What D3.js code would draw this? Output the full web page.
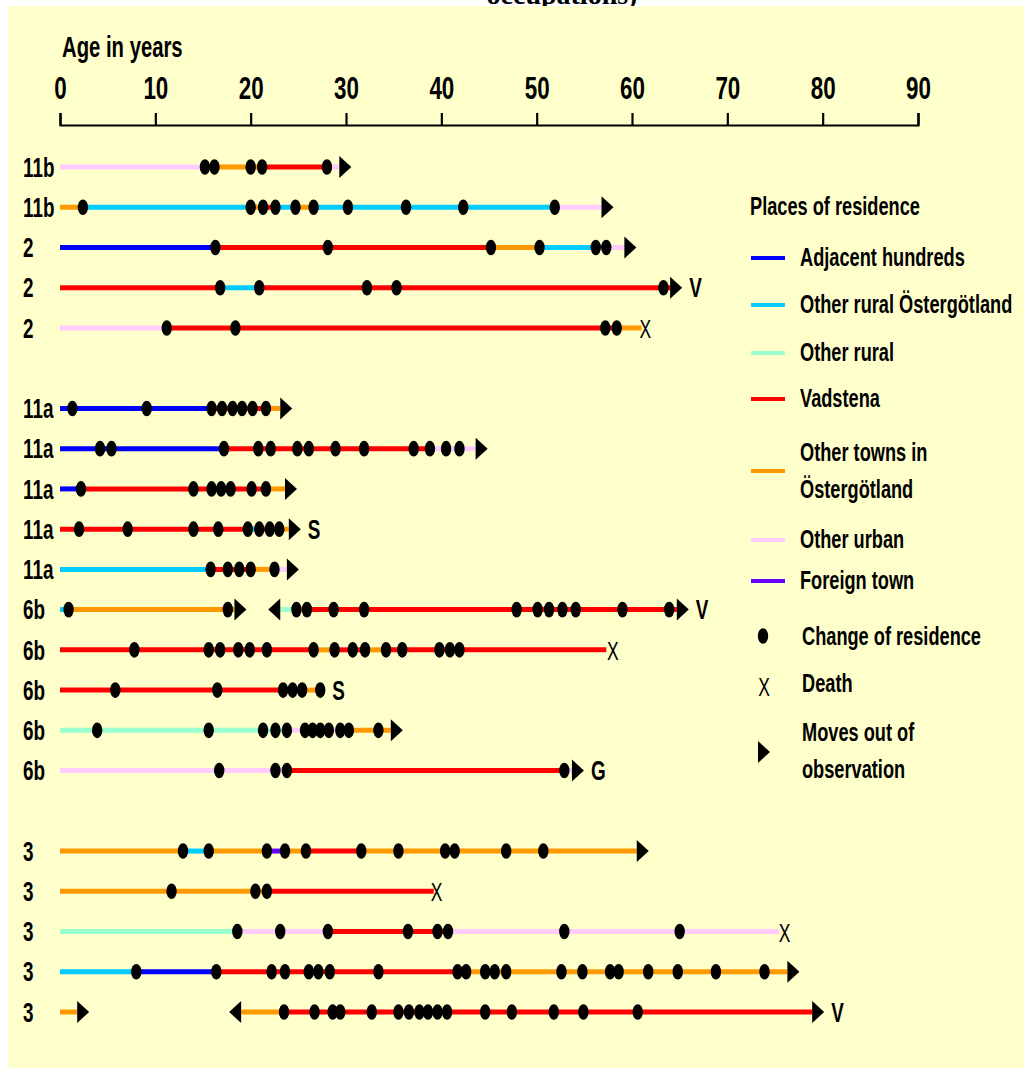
<!DOCTYPE html>
<html>
<head>
<meta charset="utf-8">
<script src="https://cdn.jsdelivr.net/npm/d3@7"></script>
<style>
  body { margin: 0; background: #fff; }
  text { font-family: "Liberation Sans", Arial, sans-serif; font-weight: bold; fill: #000; }
</style>
</head>
<body>
<svg id="chart" width="1024" height="1070"></svg>
<script>
// places of residence (legend order) and their colours
const places = ["A", "O", "R", "V", "T", "U", "F"];
const placeNames = [["Adjacent hundreds"], ["Other rural Östergötland"], ["Other rural"], ["Vadstena"],
  ["Other towns in", "Östergötland"], ["Other urban"], ["Foreign town"]];
const placeColors = ["#0000ff", "#00ccff", "#99ffcc", "#ff0000", "#ff9900", "#ffccff", "#6600ff"];

const ageTicks = [0, 10, 20, 30, 40, 50, 60, 70, 80, 90];

// one entry per lifeline, top to bottom
const rowLabels = ["11b", "11b", "2", "2", "2",
  "11a", "11a", "11a", "11a", "11a", "6b", "6b", "6b", "6b", "6b",
  "3", "3", "3", "3", "3"];
const rowGroup = [0, 0, 0, 0, 0, 1, 1, 1, 1, 1, 1, 1, 1, 1, 1, 2, 2, 2, 2, 2];

// [from age, to age, place]
const rowSegments = [
  [[0, 15.2, "U"], [15.2, 21.2, "T"], [21.2, 28.0, "V"], [28.0, 29.3, "U"]],
  [[0, 2.4, "T"], [2.4, 20.0, "O"], [20.0, 21.3, "T"], [21.3, 22.6, "V"], [22.6, 24.7, "O"], [24.7, 26.6, "T"], [26.6, 51.9, "O"], [51.9, 56.8, "U"]],
  [[0, 16.3, "A"], [16.3, 45.2, "V"], [45.2, 50.3, "T"], [50.3, 56.2, "O"], [56.2, 59.2, "U"]],
  [[0, 16.8, "V"], [16.8, 20.9, "O"], [20.9, 64.0, "V"]],
  [[0, 11.2, "U"], [11.2, 58.4, "V"], [58.4, 61.0, "T"]],
  [[0, 15.9, "A"], [15.9, 21.6, "V"], [21.6, 23.1, "T"]],
  [[0, 17.2, "A"], [17.2, 38.8, "V"], [38.8, 43.6, "U"]],
  [[0, 2.2, "A"], [2.2, 21.6, "V"], [21.6, 23.6, "T"]],
  [[0, 19.7, "V"], [19.7, 20.9, "O"], [20.9, 23.0, "V"], [23.0, 24.0, "T"]],
  [[0, 15.8, "O"], [15.8, 20.0, "V"], [20.0, 22.5, "T"], [22.5, 23.8, "U"]],
  [[0, 0.9, "O"], [0.9, 18.3, "T"], [23.1, 24.8, "R"], [24.8, 25.9, "T"], [25.9, 64.7, "V"]],
  [[0, 26.6, "V"], [26.6, 28.8, "T"], [28.8, 32.0, "V"], [32.0, 34.2, "T"], [34.2, 57.3, "V"]],
  [[0, 25.4, "V"], [25.4, 27.3, "T"]],
  [[0, 23.8, "R"], [23.8, 30.3, "U"], [30.3, 34.7, "T"]],
  [[0, 23.8, "U"], [23.8, 52.9, "V"], [52.9, 53.7, "U"]],
  [[0, 12.9, "T"], [12.9, 15.6, "O"], [15.6, 21.7, "T"], [21.7, 23.6, "F"], [23.6, 25.8, "T"], [25.8, 31.6, "V"], [31.6, 60.5, "T"]],
  [[0, 21.7, "T"], [21.7, 39.2, "V"]],
  [[0, 18.6, "R"], [18.6, 28.1, "U"], [28.1, 40.7, "V"], [40.7, 75.4, "U"]],
  [[0, 8.0, "O"], [8.0, 16.4, "A"], [16.4, 42.6, "V"], [42.6, 76.3, "T"]],
  [[0, 1.8, "T"], [19.0, 23.5, "T"], [23.5, 78.9, "V"]]
];

// ages at change of residence
const rowDots = [
  [15.2, 16.2, 20.0, 21.2, 28.0],
  [2.4, 20.0, 21.3, 22.6, 24.7, 26.6, 30.2, 36.3, 42.3, 51.9],
  [16.3, 28.1, 45.2, 50.3, 56.2, 57.3],
  [16.8, 20.9, 32.2, 35.3, 63.3],
  [11.2, 18.4, 57.2, 58.4],
  [1.3, 9.1, 15.9, 17.0, 18.1, 19.1, 20.2, 21.6],
  [4.2, 5.4, 17.2, 20.8, 22.1, 24.9, 26.1, 28.9, 31.9, 37.1, 38.8, 40.5, 41.9],
  [2.2, 14.0, 15.9, 16.9, 17.9, 20.1, 21.6],
  [2.0, 7.1, 14.0, 16.6, 19.7, 20.9, 22.0, 23.0],
  [15.8, 17.6, 18.8, 20.0, 22.5],
  [0.9, 17.6, 24.8, 25.9, 28.7, 31.9, 47.9, 50.1, 51.3, 52.7, 54.1, 59.0, 63.9],
  [7.8, 15.6, 16.8, 18.7, 19.9, 21.7, 26.6, 28.8, 30.7, 32.0, 34.2, 35.9, 39.8, 40.9, 41.9],
  [5.8, 16.5, 23.4, 24.4, 25.4, 27.3],
  [3.9, 15.6, 21.3, 22.6, 23.8, 25.7, 26.5, 27.3, 28.2, 29.4, 30.3, 33.4],
  [16.7, 22.6, 23.8, 52.9],
  [12.9, 15.6, 21.7, 23.6, 25.8, 31.6, 35.5, 40.4, 41.4, 46.8, 50.7],
  [11.7, 20.5, 21.7],
  [18.6, 23.1, 28.1, 36.5, 39.6, 40.7, 52.9, 65.0],
  [8.0, 16.4, 22.2, 23.6, 26.1, 27.1, 28.3, 33.4, 41.7, 42.6, 44.6, 45.6, 46.8, 52.6, 54.8, 57.7, 58.6, 61.7, 64.8, 68.8, 73.9],
  [23.5, 26.7, 28.6, 29.4, 32.7, 35.5, 36.6, 37.7, 38.6, 39.6, 40.6, 44.6, 47.4, 51.8, 54.9, 60.6]
];

// moves out of observation, moves back in, death
const rowExits = [[29.3], [56.8], [59.2], [64.0], [], [23.1], [43.6], [23.6], [24.0], [23.8],
  [18.3, 64.7], [], [], [34.7], [53.7], [60.5], [], [], [76.3], [1.8, 78.9]];
const rowEntries = [[], [], [], [], [], [], [], [], [], [], [23.1], [], [], [], [], [], [], [], [], [19.0]];
const rowDeaths = [null, null, null, null, 61.4, null, null, null, null, null,
  null, 58.0, null, null, null, null, 39.5, 76.0, null, null];
const rowNotes = ["", "", "", "V", "", "", "", "", "S", "", "V", "", "S", "", "G", "", "", "", "", "V"];

const SX = 0.7; // narrow lettering
const svg = d3.select("#chart");

svg.append("text")
  .attr("x", 562).attr("y", 4)
  .attr("text-anchor", "middle")
  .style("font-family", "'Liberation Serif', 'Times New Roman', serif")
  .attr("font-size", 28)
  .text("occupations)");

svg.append("rect")
  .attr("x", 8).attr("y", 6)
  .attr("width", 1016).attr("height", 1062)
  .attr("fill", "#ffffcc");

const x = d3.scaleLinear().domain([0, 90]).range([60, 918]);
const slotY = d3.scaleLinear().domain([0, 21]).range([167, 1012]);
const color = d3.scaleOrdinal(places, placeColors);

const narrow = (g, px, py, str, size) => g.append("text")
  .attr("transform", `translate(${px},${py}) scale(${SX},1)`)
  .attr("font-size", size)
  .text(str);

// axis
narrow(svg, 62, 57, "Age in years", 29);

const axis = svg.append("g")
  .attr("transform", "translate(0,125)")
  .call(d3.axisTop(x).tickValues(ageTicks).tickSize(12).tickSizeOuter(12).tickPadding(14));
axis.selectAll("path, line").attr("stroke", "#000").attr("stroke-width", 2.2);
axis.selectAll(".tick text")
  .attr("font-size", 32)
  .attr("font-family", "'Liberation Sans', Arial, sans-serif")
  .attr("font-weight", "bold")
  .attr("fill", "#000")
  .attr("transform", `scale(${SX},1)`);

// lifelines
const rows = rowLabels.map((label, i) => ({
  label,
  y: slotY(i + rowGroup[i]),
  segments: rowSegments[i],
  dots: rowDots[i],
  exits: rowExits[i],
  entries: rowEntries[i],
  death: rowDeaths[i],
  note: rowNotes[i]
}));

const ARW = 12, ARH = 11;

const row = svg.selectAll("g.row")
  .data(rows)
  .enter().append("g")
  .attr("class", "row")
  .attr("transform", d => `translate(0,${d.y})`);

row.each(function (d) {
  const g = d3.select(this);
  narrow(g, 23, 0, d.label, 27).attr("dy", "0.36em");

  g.selectAll("line.seg")
    .data(d.segments)
    .enter().append("line")
    .attr("x1", s => x(s[0]))
    .attr("x2", s => x(s[1]))
    .attr("y1", 0).attr("y2", 0)
    .attr("stroke", s => color(s[2]))
    .attr("stroke-width", 5);

  g.selectAll("ellipse")
    .data(d.dots)
    .enter().append("ellipse")
    .attr("cx", a => x(a))
    .attr("cy", 0)
    .attr("rx", 5.2).attr("ry", 7.8)
    .attr("fill", "#000");

  g.selectAll("path.exit")
    .data(d.exits)
    .enter().append("path")
    .attr("d", a => `M${x(a)},${-ARH}L${x(a) + ARW},0L${x(a)},${ARH}Z`)
    .attr("fill", "#000");

  g.selectAll("path.entry")
    .data(d.entries)
    .enter().append("path")
    .attr("d", a => `M${x(a)},${-ARH}L${x(a) - ARW},0L${x(a)},${ARH}Z`)
    .attr("fill", "#000");

  if (d.death != null) {
    narrow(g, x(d.death), 0, "X", 25)
      .attr("dy", "0.4em")
      .attr("text-anchor", "middle")
      .style("font-weight", "normal");
  }

  if (d.note) {
    const last = d.exits.length ? x(d.exits[d.exits.length - 1]) + ARW : x(d3.max(d.dots)) + 5;
    narrow(g, last + 7, 0, d.note, 27).attr("dy", "0.36em");
  }
});

// legend
const legend = svg.append("g");
narrow(legend, 750, 215, "Places of residence", 26);

const legendY = [257, 304, 352, 398, 470, 539, 580];
places.forEach((p, i) => {
  legend.append("line")
    .attr("x1", 751).attr("x2", 785)
    .attr("y1", legendY[i] + 1).attr("y2", legendY[i] + 1)
    .attr("stroke", color(p))
    .attr("stroke-width", 4);
  const lines = placeNames[i];
  lines.forEach((t, k) => {
    const ty = legendY[i] + (k - (lines.length - 1) / 2) * 37;
    narrow(legend, 800, ty, t, 26).attr("dy", "0.36em");
  });
});

legend.append("ellipse")
  .attr("cx", 763).attr("cy", 636)
  .attr("rx", 5.2).attr("ry", 7.8)
  .attr("fill", "#000");
narrow(legend, 802, 636, "Change of residence", 26).attr("dy", "0.36em");

narrow(legend, 764, 686, "X", 25).attr("dy", "0.4em").attr("text-anchor", "middle").style("font-weight", "normal");
narrow(legend, 802, 683, "Death", 26).attr("dy", "0.36em");

legend.append("path")
  .attr("d", `M758,${752 - ARH}L${758 + ARW},752L758,${752 + ARH}Z`)
  .attr("fill", "#000");
narrow(legend, 802, 732, "Moves out of", 26).attr("dy", "0.36em");
narrow(legend, 802, 769, "observation", 26).attr("dy", "0.36em");
</script>
</body>
</html>
